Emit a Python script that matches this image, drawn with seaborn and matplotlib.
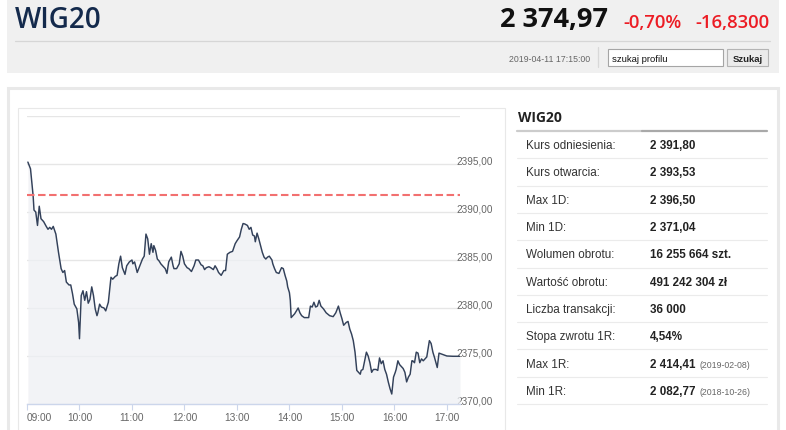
import matplotlib
matplotlib.use("Agg")
import matplotlib.pyplot as plt
import seaborn as sns
import pandas as pd
from matplotlib.patches import Rectangle
from matplotlib.lines import Line2D
from matplotlib.transforms import ScaledTranslation

# ---------------- data ----------------
minutes_after_open = [
    1, 4, 7, 8, 10, 12, 14, 16, 19, 22, 24, 26, 28, 30, 33, 36, 39, 41, 43, 45,
    48, 50, 52, 54, 57, 59, 60, 62, 64, 66, 68, 70, 72, 74, 76, 78, 80, 81, 83, 85,
    88, 90, 93, 96, 98, 101, 103, 105, 107, 109, 112, 114, 117,
    120, 121, 123, 126, 129, 132, 134, 136, 138, 140, 142, 144, 145, 147, 149, 151,
    153, 155, 158, 160, 162, 165, 167, 168, 171, 174, 176, 178, 180, 183, 185, 188,
    191, 193, 196, 199, 201, 203, 205, 208, 210, 213, 215, 217, 219, 222, 225, 227,
    229, 232, 235, 238,
    240, 243, 245, 247, 249, 252, 254, 256, 258, 260, 261, 263, 265, 267, 269, 271,
    273, 275, 277, 280, 281, 283, 285, 288, 291, 293, 295, 297, 298, 300, 301, 302,
    304, 306, 308, 310, 312, 314, 317, 320, 322, 324, 326, 328, 330, 332, 334, 336,
    339, 342, 346, 350, 353, 356, 358, 360,
    362, 365, 367, 369, 371, 373, 375, 377, 379, 381, 382, 384, 386, 388, 390, 392,
    394, 396, 399, 401, 403, 405, 407, 409, 411, 413, 415, 417, 419, 421, 422, 424,
    426, 428, 430, 432, 434, 436, 438, 440, 441, 443, 445, 447, 449, 451, 453, 455,
    457, 460, 462, 464, 466, 469, 471, 474, 480, 487, 495,
]
index_values = [
    2395.2, 2394.5, 2391.7, 2390.2, 2390.0, 2388.6, 2390.6, 2389.3, 2389.0, 2388.5,
    2388.2, 2388.4, 2388.2, 2388.5, 2387.7, 2385.8, 2384.1, 2383.7, 2383.9, 2382.7,
    2382.4, 2382.4, 2381.5, 2380.4, 2379.9, 2378.5, 2376.8, 2381.3, 2381.8, 2380.8,
    2381.7, 2380.5, 2380.9, 2382.2, 2381.3, 2379.9, 2379.2, 2379.5, 2380.4, 2380.1,
    2380.0, 2379.7, 2380.6, 2383.2, 2383.0, 2383.3, 2383.4, 2384.6, 2385.4, 2384.2,
    2383.5, 2384.4, 2384.8,
    2385.0, 2384.6, 2384.8, 2383.7, 2384.4, 2385.1, 2385.4, 2387.7, 2387.2, 2385.6,
    2386.7, 2385.8, 2386.5, 2386.0, 2385.1, 2384.9, 2384.6, 2384.4, 2384.1, 2383.6,
    2384.8, 2385.3, 2384.4, 2384.1, 2384.1, 2384.6, 2385.9, 2385.4, 2384.6, 2384.2,
    2384.1, 2383.8, 2384.4, 2385.0, 2385.0, 2384.5, 2384.4, 2384.0, 2384.2, 2384.3,
    2384.2, 2384.0, 2384.4, 2384.1, 2383.7, 2383.4, 2383.9, 2383.9, 2385.6, 2385.8,
    2385.9, 2386.7,
    2387.0, 2387.4, 2388.2, 2388.8, 2388.75, 2388.6, 2388.2, 2388.4, 2387.6, 2387.5,
    2386.9, 2387.8, 2387.2, 2386.5, 2385.8, 2385.3, 2385.1, 2385.3, 2385.4, 2385.0,
    2384.6, 2384.1, 2383.7, 2383.6, 2384.2, 2384.1, 2383.4, 2382.8, 2382.2, 2381.6,
    2380.8, 2379.0, 2379.2, 2379.4, 2379.7, 2380.0, 2379.5, 2379.2, 2379.0, 2379.0,
    2379.0, 2380.2, 2380.1, 2380.6, 2380.1, 2380.2, 2380.8, 2380.2, 2379.9, 2379.5,
    2379.2, 2379.1, 2379.5, 2380.2, 2379.5, 2378.9,
    2378.2, 2378.5, 2378.6, 2377.8, 2377.3, 2376.6, 2375.4, 2373.5, 2373.3, 2373.1,
    2373.5, 2373.6, 2374.5, 2375.4, 2375.0, 2374.3, 2373.3, 2373.6, 2373.6, 2373.5,
    2374.8, 2374.2, 2374.5, 2373.6, 2373.1, 2372.3, 2371.6, 2371.04, 2372.8, 2373.3,
    2373.6, 2374.5, 2374.1, 2373.9, 2373.7, 2373.3, 2372.3, 2372.8, 2373.1, 2374.5,
    2374.5, 2374.3, 2375.4, 2375.3, 2374.3, 2374.7, 2374.5, 2374.7, 2374.9, 2376.6,
    2376.3, 2375.4, 2374.8, 2373.8, 2375.3, 2375.2, 2375.0, 2374.97, 2374.97,
]
reference_price = 2391.80

x_tick_minutes = [0, 60, 120, 180, 240, 300, 360, 420, 480]
x_tick_labels = ["09:00", "10:00", "11:00", "12:00", "13:00", "14:00", "15:00", "16:00", "17:00"]
y_tick_values = [2370, 2375, 2380, 2385, 2390, 2395, 2400]
y_tick_labels = ["2370,00", "2375,00", "2380,00", "2385,00", "2390,00", "2395,00", ""]

header_name = "WIG20"
last_price = "2 374,97"
change_pct = "-0,70%"
change_abs = "-16,8300"
timestamp = "2019-04-11 17:15:00"
search_placeholder = "szukaj profilu"
search_button = "Szukaj"

table_title = "WIG20"
row_labels = ["Kurs odniesienia:", "Kurs otwarcia:", "Max 1D:", "Min 1D:",
              "Wolumen obrotu:", "Wartość obrotu:", "Liczba transakcji:",
              "Stopa zwrotu 1R:", "Max 1R:", "Min 1R:"]
row_values = ["2 391,80", "2 393,53", "2 396,50", "2 371,04", "16 255 664 szt.",
              "491 242 304 zł", "36 000", "4,54%", "2 414,41", "2 082,77"]
row_notes = ["", "", "", "", "", "", "", "", "(2019-02-08)", "(2018-10-26)"]

assert len(minutes_after_open) == len(index_values)

# ---------------- figure ----------------
sns.set_style("white")
plt.rcParams["font.family"] = ["Liberation Sans", "DejaVu Sans"]

W, H = 786, 431
fig = plt.figure(figsize=(W / 100, H / 100), dpi=100)
fig.patch.set_facecolor("white")


def fx(px):
    return px / W


def fy(py):
    return 1 - py / H


def rect(x0, y0, x1, y1, **kw):
    kw.setdefault("zorder", -5)
    fig.add_artist(Rectangle((fx(x0), fy(y1)), (x1 - x0) / W, (y1 - y0) / H,
                             transform=fig.transFigure, **kw))


def hline(x0, x1, y, **kw):
    kw.setdefault("zorder", -4)
    fig.add_artist(Line2D([fx(x0), fx(x1)], [fy(y), fy(y)], transform=fig.transFigure, **kw))


def vline(x, y0, y1, **kw):
    kw.setdefault("zorder", -4)
    fig.add_artist(Line2D([fx(x), fx(x)], [fy(y0), fy(y1)], transform=fig.transFigure, **kw))


# header band
rect(7, -2, 779, 74, facecolor="#f0f0f0", edgecolor="none")
hline(15, 770, 41.5, color="#d6d6d6", lw=0.9)
vline(598, 48, 68, color="#d8d8d8", lw=0.9)
rect(608, 50, 723, 67, facecolor="white", edgecolor="#a5a5a5", lw=0.8, zorder=-3)
rect(727, 50, 768, 67, facecolor="#ebebeb", edgecolor="#b4b4b4", lw=0.8, zorder=-3)

# panel
rect(8, 89, 778, 445, facecolor="white", edgecolor="#e9e9e9", lw=2.2)
rect(18, 108.5, 505, 445, facecolor="none", edgecolor="#e8e8e8", lw=0.8, zorder=-3)

open_sans = ["Open Sans", "DejaVu Sans"]
fig.text(fx(15), fy(28), header_name, family=open_sans, weight="semibold",
         fontsize=20, color="#142a4c", va="baseline", ha="left")
fig.text(fx(500), fy(27.5), last_price, family=open_sans, weight="bold",
         fontsize=19.5, color="#111111", va="baseline", ha="left")
fig.text(fx(623), fy(28), change_pct, family=open_sans, weight="semibold",
         fontsize=13.3, color="#ec1c24", va="baseline", ha="left")
fig.text(fx(769), fy(28), change_abs, family=open_sans, weight="semibold",
         fontsize=13.3, color="#ec1c24", va="baseline", ha="right")
fig.text(fx(590), fy(61.5), timestamp, fontsize=6.3, color="#666666",
         va="baseline", ha="right")
fig.text(fx(612), fy(61.5), search_placeholder, fontsize=6.8, color="#111111",
         va="baseline", ha="left", family=["Liberation Sans Narrow", "Liberation Sans"])
fig.text(fx(747.5), fy(61.5), search_button, fontsize=6.8, color="#222222",
         weight="bold", va="baseline", ha="center",
         family=["Liberation Sans Narrow", "Liberation Sans"])

# ---------------- chart ----------------
ax = fig.add_axes([fx(27), fy(405), (460 - 27) / W, (405 - 117) / H])
ax.set_facecolor("none")
df = pd.DataFrame({"minute": minutes_after_open, "value": index_values})

ax.fill_between(df["minute"], df["value"], y_tick_values[0],
                color="#eef0f4", alpha=0.75, lw=0, zorder=1)
sns.lineplot(data=df, x="minute", y="value", ax=ax, color="#33415a",
             lw=1.05, sort=False, zorder=3)
ax.axhline(reference_price, color="#f27070", lw=1.5, dashes=(3.6, 1.7), zorder=4)

ax.set_xlim(0, 495)
ax.set_ylim(y_tick_values[0], y_tick_values[-1])
ax.set_xticks(x_tick_minutes)
ax.set_xticklabels(x_tick_labels)
ax.set_yticks(y_tick_values)
ax.set_yticklabels(y_tick_labels)
ax.set_xlabel("")
ax.set_ylabel("")

ax.yaxis.tick_right()
ax.grid(False)
ax.yaxis.grid(True, color="#e6e6e6", lw=1)
ax.set_axisbelow(True)
for s in ["top", "left", "right"]:
    ax.spines[s].set_visible(False)
ax.spines["bottom"].set_color("#ccd6eb")
ax.spines["bottom"].set_linewidth(1)
ax.spines["bottom"].set_zorder(5)

ax.tick_params(axis="x", length=4.2, width=0.8, color="#ccd6eb", pad=1.8,
               labelsize=7.3, labelcolor="#666666", bottom=True)
ax.get_xticklabels()[0].set_horizontalalignment("left")
ax.tick_params(axis="y", length=0, pad=-2.3, labelsize=7.2, labelcolor="#666666")
shift = ScaledTranslation(0, 0.045, fig.dpi_scale_trans)
for lab in ax.get_yticklabels():
    lab.set_transform(lab.get_transform() + shift)
    lab.set_horizontalalignment("left")

# ---------------- info table ----------------
fig.text(fx(518), fy(118), table_title, family=open_sans, weight="bold",
         fontsize=10, color="#222222", va="center", ha="left")
hline(517, 642, 132.3, color="#cccccc", lw=1.6)
hline(642, 767, 132.3, color="#a9a9a9", lw=1.6)

row_pitch = 27.3
for i, (lab, val, note) in enumerate(zip(row_labels, row_values, row_notes)):
    base = 149.2 + row_pitch * i
    fig.text(fx(526), fy(base), lab, fontsize=8.4, color="#333333",
             va="baseline", ha="left")
    fig.text(fx(650), fy(base), val, fontsize=8.4, color="#222222",
             weight="bold", va="baseline", ha="left")
    if note:
        fig.text(fx(699), fy(base), note, fontsize=6.3, color="#666666",
                 va="baseline", ha="left")
    hline(517, 767, 159.3 + row_pitch * i, color="#ebebeb", lw=0.8)

fig.savefig("out.png", dpi=100, facecolor="white")
